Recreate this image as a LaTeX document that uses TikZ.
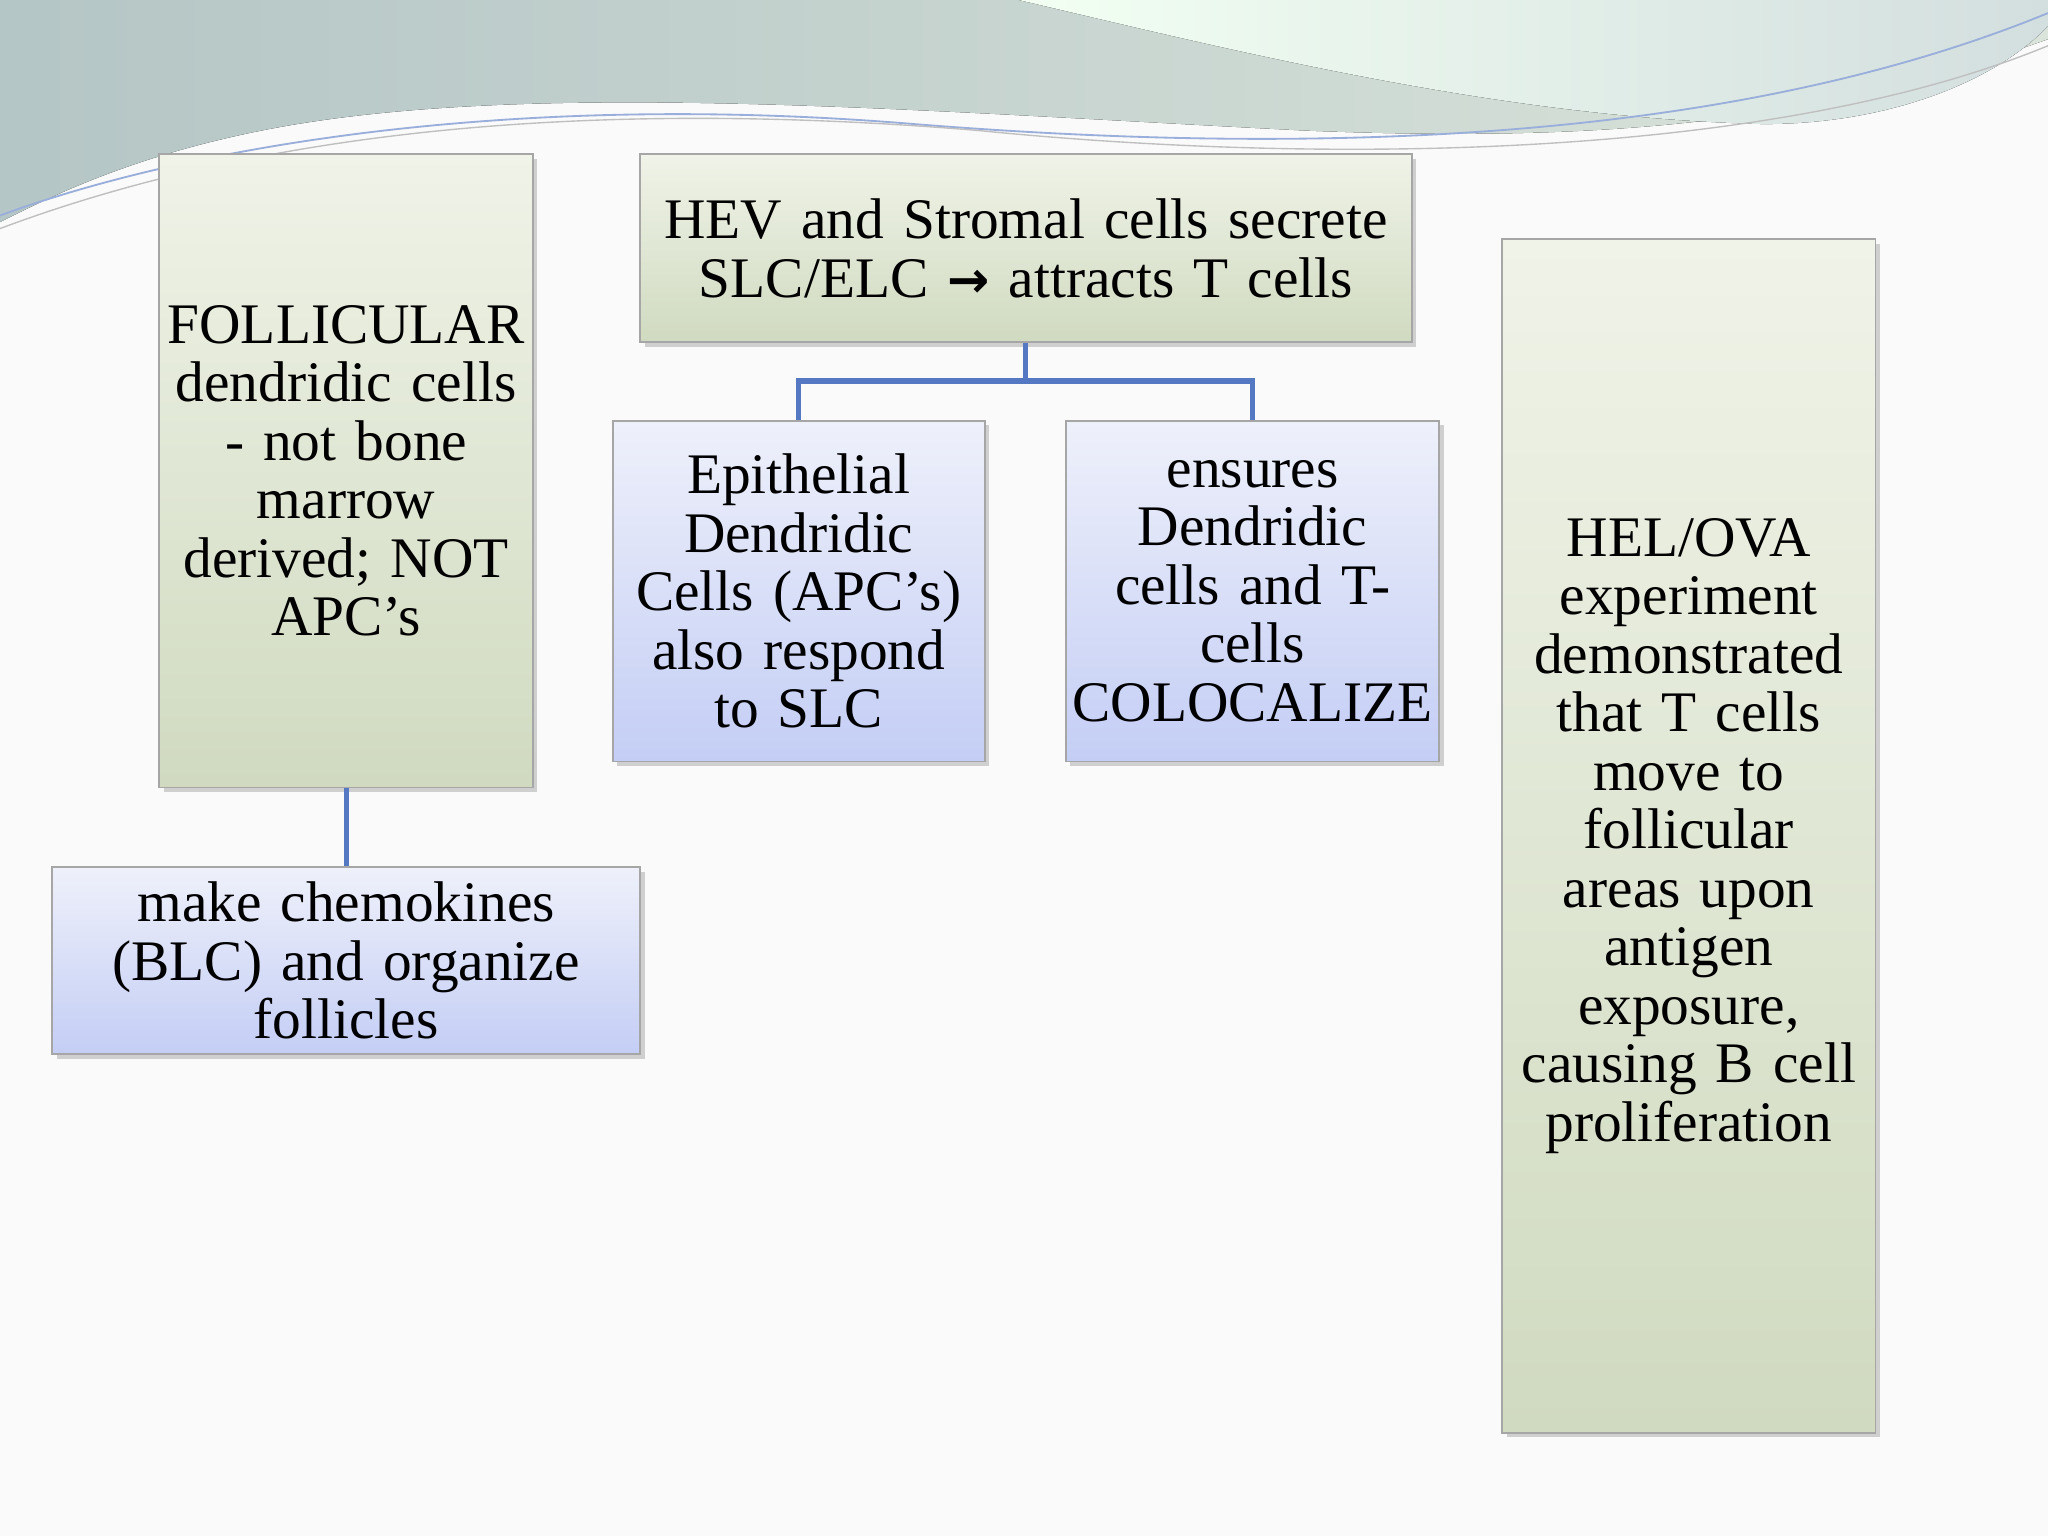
\documentclass[tikz,border=0pt]{standalone}
\usepackage{fontspec}
\setmainfont{Liberation Serif}
\usetikzlibrary{shadows}
\definecolor{lnk}{RGB}{85,120,195}
\definecolor{grT}{RGB}{240,243,232}
\definecolor{grB}{RGB}{208,218,192}
\definecolor{blT}{RGB}{238,240,250}
\definecolor{blB}{RGB}{196,206,245}
\begin{document}
\begin{tikzpicture}[x=0.02cm,y=-0.02cm,
  box/.style={draw=gray!70,line width=0.8pt,drop shadow={shadow xshift=2pt,shadow yshift=-2pt,opacity=0.35},
    align=center,inner sep=1pt,font=\fontsize{25}{25.5}\selectfont},
  gbox/.style={box,top color=grT,bottom color=grB},
  bbox/.style={box,top color=blT,bottom color=blB},
  conn/.style={draw=lnk,line width=2.2pt}]
\fill[white!96!gray] (0,0) rectangle (1568,1176);
\useasboundingbox (0,0) rectangle (1568,1176);
% top decoration
\fill[left color=teal!30!gray!45,right color=green!15!gray!25] (0,0) -- (1568,0) -- (1568,30) .. controls (1400,90) and (1250,110) .. (1000,100) .. controls (700,85) and (400,60) .. (200,100) .. controls (100,120) and (40,150) .. (0,170) -- cycle;
\fill[left color=white!95!green,right color=cyan!15!gray!30] (780,0) .. controls (950,40) and (1150,90) .. (1350,95) .. controls (1450,95) and (1530,60) .. (1568,20) -- (1568,0) -- cycle;
\draw[lnk!60,line width=0.8pt] (0,165) .. controls (150,110) and (400,70) .. (700,95) .. controls (950,115) and (1300,120) .. (1568,10);
\draw[gray!50,line width=0.6pt] (0,175) .. controls (200,100) and (450,75) .. (750,100) .. controls (1000,125) and (1350,125) .. (1568,35);
% boxes
\node[gbox,minimum width=5.72cm,minimum height=9.7cm,text width=5.6cm] (fol) at (265,360.5) {FOLLICULAR\\dendridic cells\\- not bone\\marrow\\derived; NOT\\APC’s};
\node[bbox,minimum width=9cm,minimum height=2.86cm,text width=8.8cm] (che) at (265,735.5) {make chemokines\\(BLC) and organize\\follicles};
\node[gbox,minimum width=11.82cm,minimum height=2.88cm,text width=11.7cm] (hev) at (785.5,190) {HEV and Stromal cells secrete\\SLC/ELC {\fontspec{DejaVu Sans}\bfseries\fontsize{22}{25}\selectfont →} attracts T cells};
\node[bbox,minimum width=5.7cm,minimum height=5.22cm,text width=5.6cm] (epi) at (611.5,452.5) {Epithelial\\Dendridic\\Cells (APC’s)\\also respond\\to SLC};
\node[bbox,minimum width=5.72cm,minimum height=5.22cm,text width=5.6cm] (ens) at (959,452.5) {ensures\\Dendridic\\cells and T-\\cells\\COLOCALIZE};
\node[gbox,minimum width=5.72cm,minimum height=18.28cm,text width=5.6cm] (hel) at (1293,640) {HEL/OVA\\experiment\\demonstrated\\that T cells\\move to\\follicular\\areas upon\\antigen\\exposure,\\causing B cell\\proliferation};
% connectors
\draw[conn] (fol.south) -- (che.north);
\draw[conn] (hev.south) -- ++(0,29) -| (epi.north);
\draw[conn] (hev.south) -- ++(0,29) -| (ens.north);
\end{tikzpicture}
\end{document}
